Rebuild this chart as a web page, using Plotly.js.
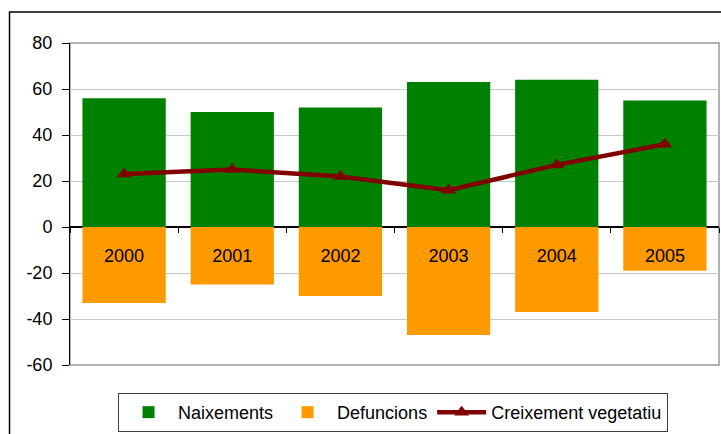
<!DOCTYPE html>
<html>
<head>
<meta charset="utf-8">
<script src="https://cdn.plot.ly/plotly-3.0.1.min.js"></script>
<style>html,body{margin:0;padding:0;background:#fff;}#chart{width:721px;height:434px;}</style>
</head>
<body>
<div id="chart"></div>
<script>
var years = ['2000', '2001', '2002', '2003', '2004', '2005'];
var naixements = [56, 50, 52, 63, 64, 55];
var defuncions = [-33, -25, -30, -47, -37, -19];
var creixement = [23, 25, 22, 16, 27, 36];
var yTicks = [-60, -40, -20, 0, 20, 40, 60, 80];

var font = 'Liberation Sans, Arial, sans-serif';

var traces = [
  {type: 'bar', name: 'Naixements', x: years, y: naixements, marker: {color: '#008000'}, hoverinfo: 'none'},
  {type: 'bar', name: 'Defuncions', x: years, y: defuncions, marker: {color: '#FF9900'}, hoverinfo: 'none'},
  {type: 'scatter', mode: 'lines+markers', name: 'Creixement vegetatiu', x: years, y: creixement,
   line: {color: '#800000', width: 4.5}, marker: {symbol: 'triangle-up', size: 13, color: '#800000'}, hoverinfo: 'none'}
];

var layout = {
  width: 721, height: 434,
  margin: {l: 70, r: 2, t: 43, b: 69, autoexpand: false},
  paper_bgcolor: '#ffffff', plot_bgcolor: '#ffffff',
  barmode: 'relative', bargap: 0.23,
  showlegend: true,
  font: {family: font, size: 18, color: '#000'},
  xaxis: {
    type: 'category', anchor: 'free', position: 60/140,
    showline: false, showgrid: false, zeroline: false,
    ticks: 'outside', tickson: 'boundaries', ticklen: 5, tickcolor: '#000', tickwidth: 1,
    ticklabelstandoff: 16, tickfont: {family: font, size: 18, color: '#000'},
    range: [-0.5, 5.5], fixedrange: true, automargin: false
  },
  yaxis: {
    range: [-60, 80], tickvals: yTicks, ticktext: yTicks.map(String),
    showline: true, linecolor: '#000', linewidth: 1,
    ticks: 'outside', ticklen: 7, tickcolor: '#000',
    ticklabelstandoff: 6,
    showgrid: true, gridcolor: '#c8c8c8', gridwidth: 1,
    zeroline: true, zerolinecolor: '#000', zerolinewidth: 1.5,
    tickfont: {family: font, size: 18, color: '#000'}, fixedrange: true, automargin: false
  },
  legend: {
    orientation: 'h', x: 0.074, y: -0.208, xanchor: 'left', yanchor: 'bottom',
    bordercolor: '#404040', borderwidth: 1, bgcolor: '#fff',
    font: {family: font, size: 18, color: '#000'}, itemwidth: 49, traceorder: 'normal'
  },
  shapes: [
    {type: 'rect', xref: 'paper', yref: 'paper', x0: 0, x1: 1, y0: 0, y1: 1,
     line: {color: '#999999', width: 1.5}, layer: 'below'},
    {type: 'rect', xref: 'paper', yref: 'paper', x0: -0.0932, x1: 1.05, y0: -0.3, y1: 1.0963,
     line: {color: '#000', width: 1.5}, layer: 'below'}
  ]
};

Plotly.newPlot('chart', traces, layout, {displayModeBar: false, staticPlot: true});
</script>
</body>
</html>
